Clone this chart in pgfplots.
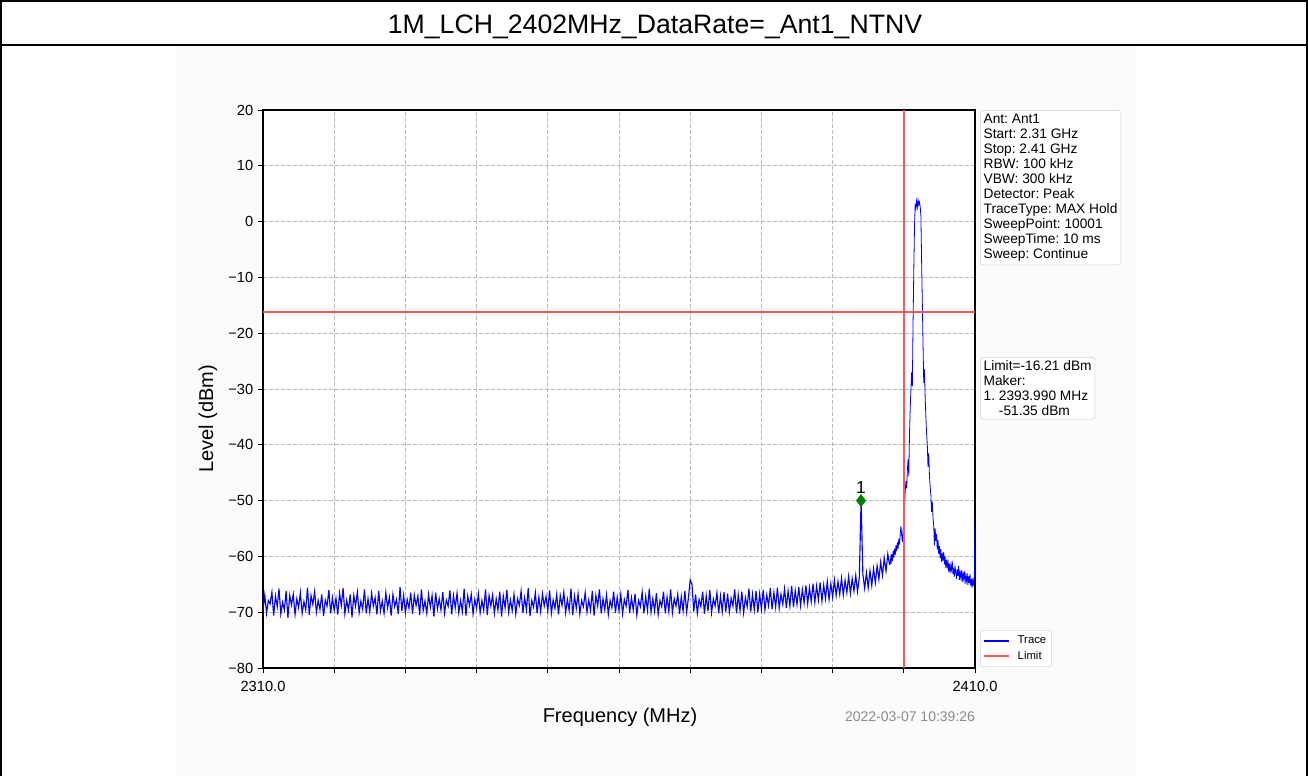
\documentclass[border=0pt]{standalone}
\usepackage{pgfplots}
\usepackage{pgfplotstable}
\pgfplotsset{compat=1.18}
\usepackage{fontspec}
\setmainfont{Liberation Sans}
\frenchspacing
\definecolor{lim}{RGB}{255,85,85}
\definecolor{mk}{RGB}{0,128,0}
% noise floor, 2310 MHz to 2398 MHz, 0.25 MHz step
\pgfplotstableread[row sep=\\]{
y\\
-69.8\\ -66.9\\ -70.2\\ -67.9\\ -68.5\\ -66.4\\ -70.6\\ -67.1\\ -69.0\\ -65.8\\ -70.3\\ -68.2\\ -69.6\\ -66.2\\ -71.0\\ -67.0\\ -68.7\\ -66.8\\ -70.4\\ -67.6\\
-69.2\\ -66.5\\ -70.2\\ -68.1\\ -69.6\\ -65.6\\ -70.5\\ -67.0\\ -68.6\\ -66.3\\ -70.0\\ -67.9\\ -69.5\\ -66.8\\ -70.7\\ -67.8\\ -68.9\\ -66.0\\ -70.2\\ -67.4\\
-69.7\\ -67.5\\ -70.4\\ -66.6\\ -68.8\\ -65.7\\ -70.3\\ -67.9\\ -69.6\\ -66.8\\ -70.9\\ -67.0\\ -68.9\\ -66.4\\ -70.1\\ -68.0\\ -69.5\\ -65.9\\ -70.2\\ -67.6\\
-70.0\\ -66.6\\ -68.9\\ -67.4\\ -70.4\\ -66.2\\ -69.8\\ -68.0\\ -70.2\\ -66.5\\ -69.2\\ -67.3\\ -70.6\\ -66.8\\ -69.0\\ -67.7\\ -70.3\\ -65.5\\ -69.8\\ -67.0\\
-70.1\\ -67.7\\ -69.3\\ -66.5\\ -70.3\\ -66.9\\ -68.8\\ -67.1\\ -70.5\\ -65.9\\ -69.7\\ -68.0\\ -70.2\\ -66.8\\ -69.1\\ -67.0\\ -70.8\\ -66.5\\ -69.4\\ -67.6\\
-69.6\\ -66.4\\ -70.2\\ -67.8\\ -68.9\\ -66.1\\ -70.4\\ -67.0\\ -69.2\\ -66.6\\ -70.1\\ -67.9\\ -69.9\\ -65.8\\ -70.6\\ -67.1\\ -68.8\\ -66.8\\ -70.3\\ -67.7\\
-69.3\\ -66.7\\ -70.1\\ -67.9\\ -69.7\\ -65.9\\ -70.5\\ -67.0\\ -68.9\\ -66.9\\ -70.2\\ -67.6\\ -69.6\\ -66.3\\ -70.8\\ -67.1\\ -69.2\\ -66.0\\ -70.0\\ -67.8\\
-69.7\\ -66.8\\ -70.3\\ -67.6\\ -68.8\\ -66.2\\ -70.1\\ -67.4\\ -69.6\\ -65.7\\ -70.7\\ -67.9\\ -69.1\\ -66.5\\ -70.2\\ -67.3\\ -69.9\\ -66.7\\ -68.9\\ -67.2\\
-69.8\\ -66.1\\ -70.2\\ -67.8\\ -69.3\\ -66.8\\ -70.4\\ -67.0\\ -68.8\\ -66.4\\ -70.1\\ -67.7\\ -69.7\\ -65.8\\ -70.5\\ -67.1\\ -69.3\\ -66.7\\ -70.3\\ -67.9\\
-69.0\\ -66.5\\ -70.0\\ -67.8\\ -69.7\\ -66.2\\ -70.6\\ -67.0\\ -68.9\\ -65.9\\ -70.2\\ -67.6\\ -69.6\\ -66.9\\ -70.4\\ -67.9\\ -69.2\\ -66.3\\ -70.1\\ -67.3\\
-69.7\\ -66.8\\ -70.3\\ -67.7\\ -68.9\\ -66.0\\ -70.1\\ -67.4\\ -69.6\\ -66.7\\ -70.5\\ -67.9\\ -69.0\\ -66.4\\ -70.2\\ -67.2\\ -69.7\\ -65.8\\ -70.0\\ -67.6\\
-69.8\\ -66.6\\ -70.4\\ -67.9\\ -69.0\\ -66.3\\ -70.2\\ -67.3\\ -69.9\\ -65.9\\ -70.1\\ -67.6\\ -68.9\\ -66.8\\ -70.3\\ -67.2\\ -69.8\\ -66.2\\ -70.0\\ -67.4\\
-64.2\\ -65.0\\ -69.9\\ -66.8\\ -70.2\\ -67.7\\ -69.0\\ -66.3\\ -70.3\\ -67.0\\ -69.8\\ -66.0\\ -70.1\\ -67.6\\ -68.9\\ -66.5\\ -70.2\\ -67.1\\ -69.9\\ -66.4\\
-69.9\\ -66.7\\ -70.0\\ -67.5\\ -68.9\\ -65.9\\ -70.2\\ -66.9\\ -69.7\\ -66.3\\ -70.1\\ -67.4\\ -69.0\\ -65.8\\ -69.9\\ -66.8\\ -69.6\\ -66.2\\ -70.0\\ -66.7\\
-69.5\\ -66.0\\ -69.6\\ -66.9\\ -68.8\\ -65.7\\ -69.5\\ -66.5\\ -69.1\\ -65.6\\ -69.3\\ -66.8\\ -68.6\\ -65.8\\ -69.2\\ -66.2\\ -68.9\\ -65.3\\ -69.1\\ -66.1\\
-68.6\\ -65.5\\ -68.8\\ -65.9\\ -68.3\\ -65.2\\ -68.5\\ -65.6\\ -68.1\\ -64.9\\ -68.2\\ -65.3\\ -67.8\\ -64.7\\ -68.0\\ -65.1\\ -67.6\\ -64.5\\ -67.7\\ -64.9\\
-67.3\\ -64.2\\ -67.0\\ -64.5\\ -66.8\\ -63.9\\ -66.9\\ -64.3\\ -66.5\\ -63.6\\ -66.6\\ -64.0\\ -66.2\\ -63.4\\ -66.3\\ -63.8\\ -50.0\\ -63.2\\ -65.7\\ -62.9\\
-65.6\\ -62.6\\ -65.2\\ -62.2\\ -64.7\\ -61.7\\ -64.1\\ -61.0\\ -63.4\\ -60.3\\ -62.6\\ -59.6\\ -61.5\\
}\floor
\begin{document}
\begin{tikzpicture}[x=0.75pt,y=-0.75pt]
\useasboundingbox (0,0) rectangle (1308,776);
\fill[black!1.5] (175,46) rectangle (1135,776);
\draw[line width=1.5pt] (1,776)--(1,1)--(1307,1)--(1307,776);
\draw[line width=1.5pt] (1,45)--(1307,45);
\node[font=\fontsize{20}{24}\selectfont] at (655,27) {1M\_LCH\_2402MHz\_DataRate=\_Ant1\_NTNV};
\begin{axis}[
  at={(197.25pt,-501pt)}, anchor=south west,
  scale only axis, width=534pt, height=418.5pt,
  xmin=2310, xmax=2410, ymin=-80, ymax=20,
  axis background/.style={fill=white},
  axis line style={line width=0.9pt, black},
  xtick={2310,2320,...,2410},
  xticklabels={2310.0,,,,,,,,,,2410.0},
  ytick={-80,-70,...,20},
  yticklabels={−80,−70,−60,−50,−40,−30,−20,−10,0,10,20},
  tick align=outside, tick pos=left,
  major tick length=3.75pt,
  tick style={line width=0.75pt, black},
  grid=major,
  major grid style={gray!55, line width=0.5pt, dash pattern=on 3pt off 1.5pt},
  tick label style={font=\fontsize{11}{13}\selectfont},
  xticklabel style={yshift=-2.5pt},
  /pgf/number format/assume math mode=true,
  legend style={at={(1.007,0.002)}, anchor=south west, draw=black!15, rounded corners=2pt,
    font=\fontsize{8.5}{10}\selectfont, inner sep=2pt, fill=white,
    /tikz/every odd column/.append style={column sep=4pt}},
  legend cell align=left,
  legend image code/.code={\draw[#1, line width=1.1pt] (0pt,0pt)--(19pt,0pt);},
]
\addplot[color=blue, line width=0.85pt] table[x expr={2310+0.25*\coordindex}, y=y] {\floor};
\addlegendentry{Trace}
\addplot[color=blue, line width=0.6pt, forget plot] coordinates {
(2398.0,-61.5) (2398.1,-60.3) (2398.2,-61.4) (2398.3,-59.6) (2398.4,-60.8) (2398.5,-59.0) (2398.6,-60.2) (2398.7,-58.6) (2398.8,-59.7) (2398.9,-58.0)
(2399.0,-59.1) (2399.1,-57.5) (2399.2,-58.6) (2399.3,-56.8) (2399.4,-57.9) (2399.5,-55.9) (2399.6,-54.6) (2399.7,-56.3) (2399.8,-57.4) (2399.9,-55.2)
(2400.0,-54.0) (2400.1,-51.0) (2400.2,-48.2) (2400.3,-46.5) (2400.4,-47.8) (2400.5,-44.5) (2400.6,-42.6) (2400.7,-45.6) (2400.8,-38.0) (2400.9,-33.5)
(2401.0,-30.0) (2401.1,-27.0) (2401.2,-29.5) (2401.3,-18.0) (2401.4,-9.0) (2401.5,-1.0) (2401.6,3.2) (2401.7,2.4) (2401.8,3.7) (2401.9,2.6)
(2402.0,3.9) (2402.1,3.0) (2402.2,3.5) (2402.3,2.7) (2402.4,1.0) (2402.5,-7.0) (2402.6,-14.5) (2402.7,-22.0) (2402.8,-28.9) (2402.9,-26.5)
(2403.0,-31.5) (2403.1,-35.0) (2403.2,-38.0) (2403.3,-40.0) (2403.4,-44.0) (2403.5,-41.5) (2403.6,-45.5) (2403.7,-47.5) (2403.8,-49.0) (2403.9,-52.0)
(2404.0,-50.2) (2404.1,-53.0) (2404.2,-54.5) (2404.3,-58.0) (2404.4,-55.0) (2404.5,-57.2) (2404.6,-56.0) (2404.7,-58.8) (2404.8,-57.0) (2404.9,-59.6)
(2405.0,-58.1) (2405.1,-60.3) (2405.2,-58.7) (2405.3,-61.0) (2405.4,-59.4) (2405.5,-60.8) (2405.6,-59.2) (2405.7,-61.4) (2405.8,-60.0) (2405.9,-62.1)
(2406.0,-60.6) (2406.1,-61.8) (2406.2,-60.9) (2406.3,-62.7) (2406.4,-61.3) (2406.5,-63.0) (2406.6,-61.6) (2406.7,-62.4) (2406.8,-60.8) (2406.9,-63.2)
(2407.0,-62.0) (2407.1,-63.6) (2407.2,-61.9) (2407.3,-62.8) (2407.4,-64.0) (2407.5,-62.3) (2407.6,-63.5) (2407.7,-61.7) (2407.8,-64.2) (2407.9,-62.9)
(2408.0,-63.8) (2408.1,-62.5) (2408.2,-64.6) (2408.3,-63.1) (2408.4,-64.0) (2408.5,-62.7) (2408.6,-64.9) (2408.7,-63.4) (2408.8,-64.4) (2408.9,-63.0)
(2409.0,-65.1) (2409.1,-63.6) (2409.2,-64.8) (2409.3,-63.2) (2409.4,-65.3) (2409.5,-64.0) (2409.6,-65.6) (2409.7,-63.9) (2409.8,-65.0) (2409.9,-64.3)
(2410.0,-53.0)
};
\addplot[color=lim, line width=1.1pt] coordinates {(2310,-16.21) (2410,-16.21)};
\addlegendentry{Limit}
\addplot[color=lim, line width=1.1pt, forget plot] coordinates {(2400,-80) (2400,20)};
\addplot[only marks, mark=diamond*, mark size=4.6pt, mk, forget plot] coordinates {(2393.99,-50)};
\node[anchor=south, inner sep=0pt, yshift=5.25pt, font=\fontsize{13}{15}\selectfont] at (axis cs:2393.99,-50) {1};
\end{axis}
\node[rotate=90, font=\fontsize{15}{18}\selectfont] at (208,419) {Level (dBm)};
\node[font=\fontsize{15}{18}\selectfont] at (620,717) {Frequency (MHz)};
\node[text=black!45, font=\fontsize{10.5}{12}\selectfont] at (910,717) {2022-03-07 10:39:26};
\node[anchor=north west, draw=black!18, rounded corners=2pt, fill=white, inner sep=2.5pt, align=left,
  font=\fontsize{10.3}{11.3}\selectfont] at (980,110)
  {Ant: Ant1\\Start: 2.31 GHz\\Stop: 2.41 GHz\\RBW: 100 kHz\\VBW: 300 kHz\\Detector: Peak\\TraceType: MAX Hold\\SweepPoint: 10001\\SweepTime: 10 ms\\Sweep: Continue};
\node[anchor=north west, draw=black!18, rounded corners=2pt, fill=white, inner sep=2.5pt, align=left,
  font=\fontsize{10.3}{11.3}\selectfont] at (980,357)
  {Limit=-16.21 dBm\\Maker:\\1. 2393.990 MHz\\\hspace*{11.5pt}-51.35 dBm};
\end{tikzpicture}
\end{document}
